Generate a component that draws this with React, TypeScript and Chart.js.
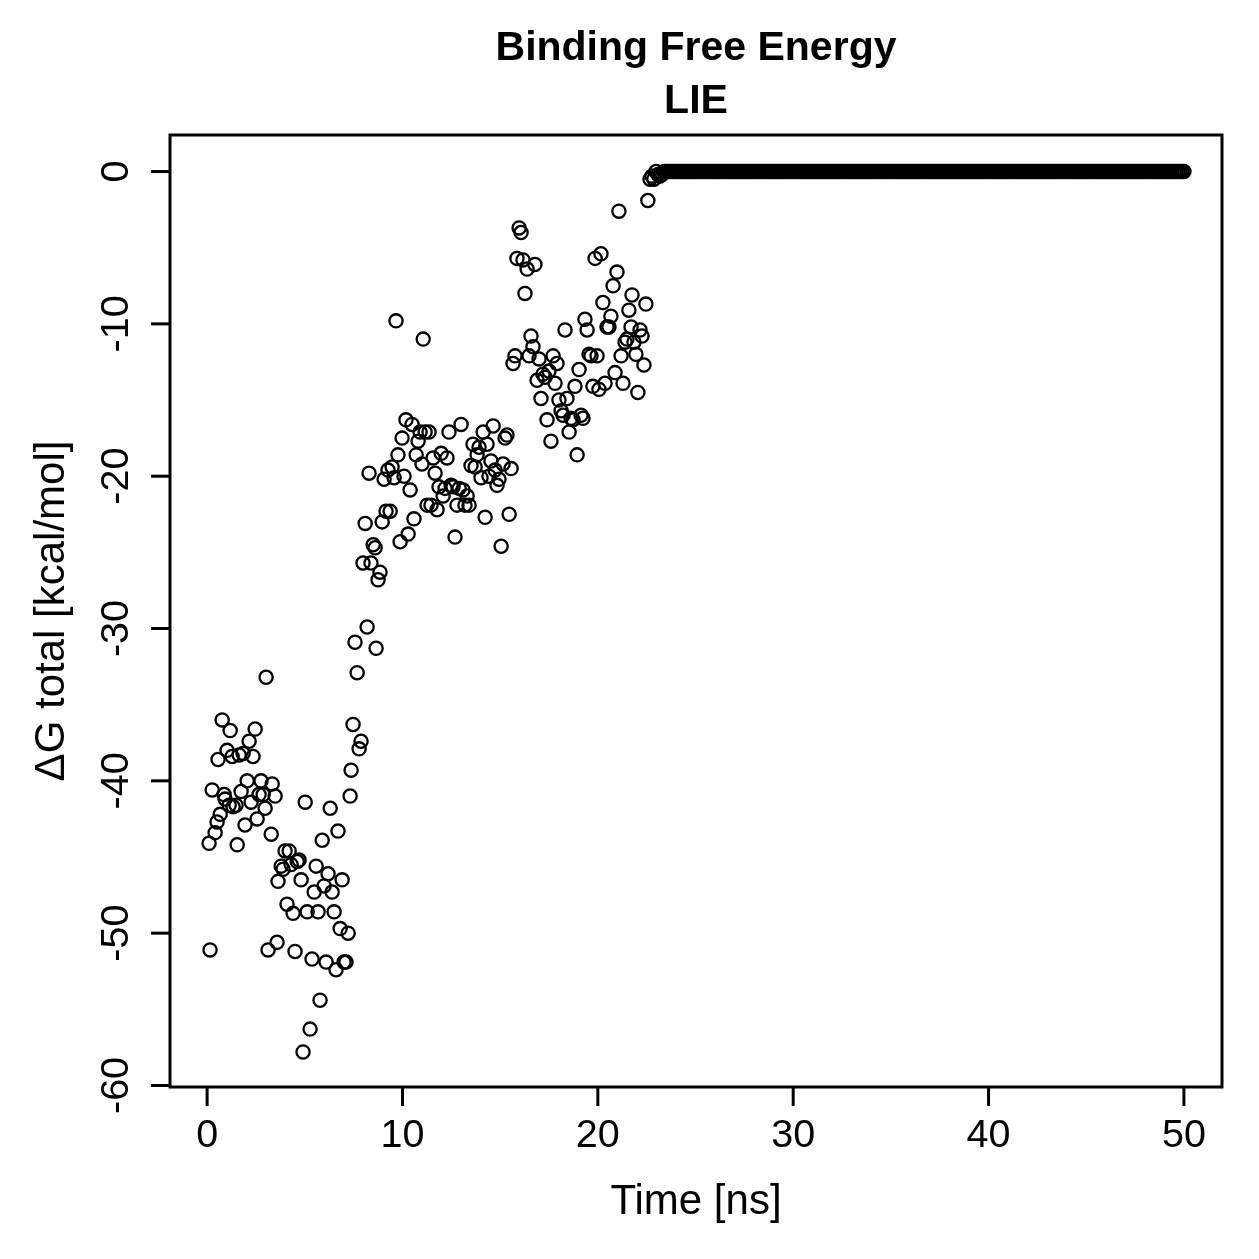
import React, { useEffect, useRef } from 'react';
import { Chart, registerables } from 'chart.js';

Chart.register(...registerables);

// ---- Data ----
const timeEarly: number[] = [
  0.10, 0.15, 0.26, 0.41, 0.51, 0.56, 0.67, 0.77, 0.87, 0.92, 1.02, 1.13, 1.18, 1.28, 1.33, 1.48, 1.54, 1.64, 1.74, 1.84,
  1.94, 2.05, 2.15, 2.25, 2.35, 2.46, 2.56, 2.66, 2.76, 2.87, 2.97, 3.02, 3.12, 3.28, 3.33, 3.48, 3.58, 3.63, 3.79, 3.89,
  3.99, 4.09, 4.20, 4.30, 4.40, 4.50, 4.61, 4.71, 4.81, 4.91, 5.02, 5.12, 5.27, 5.37, 5.48, 5.58, 5.68, 5.78, 5.89, 5.99,
  6.09, 6.19, 6.30, 6.40, 6.50, 6.60, 6.70, 6.81, 6.91, 7.01, 7.11, 7.22, 7.32, 7.37, 7.47, 7.57, 7.68, 7.78, 7.88, 7.98,
  8.09, 8.19, 8.29, 8.39, 8.50, 8.60, 8.65, 8.75, 8.85, 8.96, 9.06, 9.16, 9.26, 9.37, 9.47, 9.57, 9.67, 9.77, 9.88, 9.98,
  10.08, 10.18, 10.29, 10.39, 10.49, 10.59, 10.70, 10.80, 10.90, 11.00, 11.06, 11.16, 11.26, 11.36, 11.46, 11.57, 11.67, 11.77, 11.87, 11.98,
  12.08, 12.18, 12.28, 12.38, 12.49, 12.59, 12.69, 12.79, 12.90, 13.00, 13.10, 13.20, 13.31, 13.41, 13.51, 13.61, 13.72, 13.82, 13.92, 14.02,
  14.13, 14.23, 14.33, 14.43, 14.53, 14.64, 14.74, 14.84, 14.94, 15.05, 15.15, 15.25, 15.35, 15.46, 15.56, 15.66, 15.76, 15.86, 15.97, 16.07,
  16.17, 16.27, 16.38, 16.48, 16.58, 16.68, 16.78, 16.89, 16.99, 17.09, 17.19, 17.30, 17.40, 17.50, 17.60, 17.71, 17.81, 17.91, 18.01, 18.12,
  18.22, 18.32, 18.42, 18.53, 18.63, 18.73, 18.83, 18.94, 19.04, 19.14, 19.24, 19.34, 19.45, 19.55, 19.65, 19.75, 19.86, 19.96, 20.06, 20.16,
  20.26, 20.37, 20.47, 20.57, 20.67, 20.78, 20.88, 20.98, 21.08, 21.19, 21.29, 21.39, 21.49, 21.59, 21.70, 21.75, 21.85, 21.95, 22.05, 22.16,
  22.26, 22.36, 22.46, 22.56, 22.67, 22.77, 22.87, 22.98, 23.08, 23.18, 23.28,
];

const deltaGEarly: number[] = [
  -44.1, -51.1, -40.6, -43.4, -42.7, -38.6, -42.2, -36.0, -40.9, -41.2, -38.0, -41.6, -36.7, -38.4, -41.7, -41.6, -44.2, -38.3, -40.7, -38.2,
  -42.9, -40.0, -37.4, -41.4, -38.4, -36.6, -42.5, -40.9, -40.0, -40.9, -41.8, -33.2, -51.1, -43.5, -40.2, -41.0, -50.6, -46.6, -45.6, -45.8,
  -44.6, -48.1, -44.6, -45.5, -48.7, -51.2, -45.3, -45.2, -46.5, -57.8, -41.4, -48.6, -56.3, -51.7, -47.3, -45.6, -48.6, -54.4, -43.9, -46.9,
  -51.9, -46.1, -41.8, -47.3, -48.6, -52.4, -43.3, -49.7, -46.5, -51.9, -51.9, -50.0, -41.0, -39.3, -36.3, -30.9, -32.9, -37.9, -37.4, -25.7,
  -23.1, -29.9, -19.8, -25.7, -24.5, -24.7, -31.3, -26.8, -26.3, -23.0, -20.2, -22.3, -19.6, -22.3, -19.4, -20.1, -9.8, -18.6, -24.3, -17.5,
  -20.0, -16.3, -23.8, -20.9, -16.6, -22.8, -18.6, -17.7, -17.1, -19.2, -11.0, -17.1, -21.9, -17.1, -21.9, -18.8, -19.8, -22.2, -20.7, -18.5,
  -21.3, -20.8, -18.8, -17.1, -20.6, -20.7, -24.0, -21.9, -20.8, -16.6, -20.9, -21.9, -21.3, -21.9, -19.3, -17.9, -19.4, -18.6, -18.1, -20.1,
  -17.1, -22.7, -17.9, -20.0, -19.0, -16.7, -19.6, -20.6, -20.2, -24.6, -19.2, -17.5, -17.3, -22.5, -19.5, -12.6, -12.1, -5.7, -3.7, -4.0,
  -5.8, -8.0, -6.4, -12.1, -10.8, -11.5, -6.1, -13.7, -12.3, -14.9, -13.3, -13.5, -16.3, -13.1, -17.7, -12.1, -13.9, -12.6, -15.0, -15.7,
  -16.0, -10.4, -14.9, -17.1, -16.2, -16.3, -14.1, -18.6, -13.0, -16.0, -16.2, -9.7, -10.4, -12.0, -12.1, -14.1, -5.7, -12.1, -14.3, -5.4,
  -8.6, -13.9, -10.2, -10.2, -9.5, -7.5, -13.2, -6.6, -2.6, -12.1, -13.9, -11.2, -11.0, -9.1, -10.2, -8.1, -11.2, -12.0, -14.5, -10.4,
  -10.8, -12.7, -8.7, -1.9, -0.5, -0.3, -0.5, 0.0, -0.2, -0.3, -0.2,
];

// flat tail: every frame from 23.4 ns to 50.0 ns (0.1 ns apart) sits at 0
const tailStartTime = 23.4;
const tailEndTime = 50.0;
const tailStepTime = 0.1;
const tailDeltaG = 0;

const xTickValues = [0, 10, 20, 30, 40, 50];
const xTickLabels = ['0', '10', '20', '30', '40', '50'];
const yTickValues = [0, -10, -20, -30, -40, -50, -60];
const yTickLabels = ['0', '-10', '-20', '-30', '-40', '-50', '-60'];

const titleLines = ['Binding Free Energy', 'LIE'];
const xTitle = 'Time [ns]';
const yTitle = '\u0394G total [kcal/mol]';

const W = 1259;
const H = 1259;
const FONT = '"Liberation Sans", Arial, Helvetica, sans-serif';

const axesPlugin = {
  id: 'rStyleAxes',
  afterDraw(chart: any) {
    const ctx: CanvasRenderingContext2D = chart.ctx;
    const ca = chart.chartArea;
    const xs = chart.scales.x;
    const ys = chart.scales.y;
    ctx.save();
    ctx.strokeStyle = '#000';
    ctx.fillStyle = '#000';
    ctx.lineWidth = 3;
    ctx.lineCap = 'butt';
    ctx.strokeRect(ca.left, ca.top, ca.right - ca.left, ca.bottom - ca.top);

    // x ticks
    ctx.font = `39.5px ${FONT}`;
    ctx.textAlign = 'center';
    ctx.textBaseline = 'alphabetic';
    xTickValues.forEach((v, i) => {
      const px = xs.getPixelForValue(v);
      ctx.beginPath();
      ctx.moveTo(px, ca.bottom);
      ctx.lineTo(px, ca.bottom + 19);
      ctx.stroke();
      ctx.fillText(xTickLabels[i], px, 1147);
    });

    // y ticks (rotated labels)
    yTickValues.forEach((v, i) => {
      const py = ys.getPixelForValue(v);
      ctx.beginPath();
      ctx.moveTo(ca.left - 19, py);
      ctx.lineTo(ca.left, py);
      ctx.stroke();
      ctx.save();
      ctx.translate(128, py);
      ctx.rotate(-Math.PI / 2);
      ctx.fillText(yTickLabels[i], 0, 0);
      ctx.restore();
    });

    // axis titles
    const cx = (ca.left + ca.right) / 2;
    const cy = (ca.top + ca.bottom) / 2;
    ctx.font = `42px ${FONT}`;
    ctx.fillText(xTitle, cx, 1214);
    ctx.save();
    ctx.translate(64, cy);
    ctx.rotate(-Math.PI / 2);
    ctx.fillText(yTitle, 0, 0);
    ctx.restore();

    // main title
    ctx.font = `bold 41px ${FONT}`;
    ctx.fillText(titleLines[0], cx, 60);
    ctx.fillText(titleLines[1], cx, 113);
    ctx.restore();
  },
};

export default function App() {
  const canvasRef = useRef<HTMLCanvasElement>(null);

  useEffect(() => {
    document.body.style.margin = '0';
    const canvas = canvasRef.current;
    if (!canvas) return;

    const points: { x: number; y: number }[] = timeEarly.map((t, i) => ({ x: t, y: deltaGEarly[i] }));
    const nTail = Math.round((tailEndTime - tailStartTime) / tailStepTime);
    for (let k = 0; k <= nTail; k++) {
      points.push({ x: +(tailStartTime + k * tailStepTime).toFixed(2), y: tailDeltaG });
    }

    const chart = new Chart(canvas, {
      type: 'scatter',
      data: {
        datasets: [
          {
            data: points,
            pointStyle: 'circle',
            pointRadius: 6.6,
            pointHoverRadius: 6.6,
            pointBorderWidth: 2.3,
            borderColor: '#000',
            pointBorderColor: '#000',
            pointBackgroundColor: 'rgba(0,0,0,0)',
            backgroundColor: 'rgba(0,0,0,0)',
            showLine: false,
          },
        ],
      },
      options: {
        responsive: false,
        maintainAspectRatio: false,
        animation: false,
        devicePixelRatio: 1,
        events: [],
        layout: { padding: { left: 170, top: 135, right: 37, bottom: 172 } },
        scales: {
          x: { type: 'linear', min: -1.9, max: 51.95, display: false },
          y: { type: 'linear', min: -60.1, max: 2.4, display: false },
        },
        plugins: {
          legend: { display: false },
          tooltip: { enabled: false },
          title: { display: false },
        },
      },
      plugins: [axesPlugin],
    });

    return () => chart.destroy();
  }, []);

  return (
    <div style={{ position: 'absolute', left: 0, top: 0, width: W, height: H, background: '#fff' }}>
      <canvas ref={canvasRef} width={W} height={H} style={{ display: 'block', width: W, height: H }} />
    </div>
  );
}
